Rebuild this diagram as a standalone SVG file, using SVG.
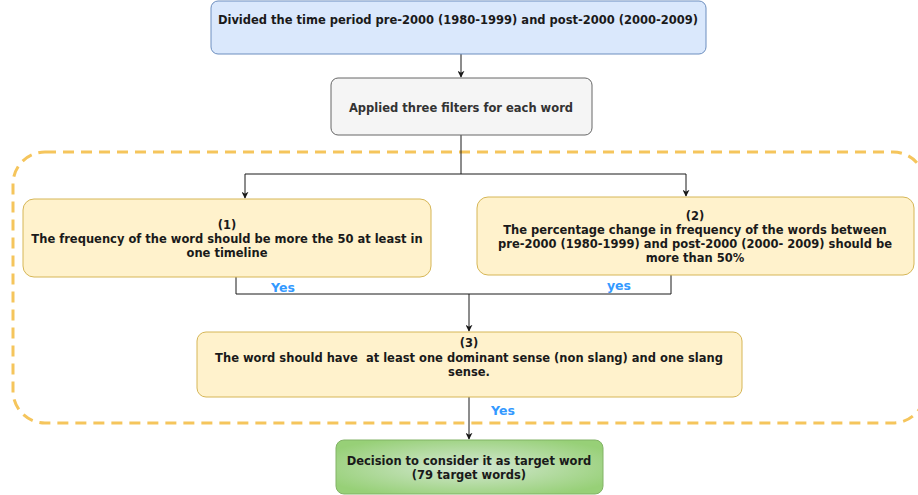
<svg xmlns="http://www.w3.org/2000/svg" width="918" height="495" viewBox="0 0 918 495">
<defs>
<style>
text{font-family:"DejaVu Sans",Verdana,sans-serif;font-weight:bold;font-size:11.5px;fill:#1a1a1a;text-anchor:middle}
.lbl{fill:#3399ff;font-size:12.5px}
.c{fill:none;stroke:#1a1a1a;stroke-width:1}
.y{fill:#fff2cc;stroke:#d6b656;stroke-width:1}
</style>
<marker id="ar" viewBox="0 0 10 10" refX="9" refY="5" markerWidth="7" markerHeight="7" orient="auto" markerUnits="userSpaceOnUse">
<path d="M0,0 L10,5 L0,10 L3,5 Z" fill="#1a1a1a"/>
</marker>
<radialGradient id="g" cx="50%" cy="50%" r="60%">
<stop offset="0" stop-color="#d5e8d4"/>
<stop offset="1" stop-color="#97d077"/>
</radialGradient>
</defs>
<rect x="13" y="152" width="912" height="271" rx="32" fill="none" stroke="#f5c55c" stroke-width="3" stroke-dasharray="11 7"/>
<g id="connectors">
<path class="c" d="M461,54 V77" marker-end="url(#ar)"/>
<path class="c" d="M461,135 V174 H245 V198" marker-end="url(#ar)"/>
<path class="c" d="M461,174 H686 V196" marker-end="url(#ar)"/>
<path class="c" d="M236,277 V294 H671 V275"/>
<path class="c" d="M469,294 V331" marker-end="url(#ar)"/>
<path class="c" d="M469,397 V439" marker-end="url(#ar)"/>
<text class="lbl" x="283" y="292">Yes</text>
<text class="lbl" x="619" y="290">yes</text>
<text class="lbl" x="503" y="415">Yes</text>
</g>
<g id="n1">
<rect x="211" y="1" width="495" height="53" rx="7" fill="#dae8fc" stroke="#6c8ebf"/>
<text x="458" y="24">Divided the time period pre-2000 (1980-1999) and post-2000 (2000-2009)</text>
</g>
<g id="n2">
<rect x="331" y="78" width="261" height="57" rx="7" fill="#f5f5f5" stroke="#666666"/>
<text x="461" y="112" style="fill:#333333">Applied three filters for each word</text>
</g>
<g id="n3">
<rect class="y" x="23" y="199" width="408" height="78" rx="11"/>
<text x="227" y="229">(1)</text>
<text x="227" y="243">The frequency of the word should be more the 50 at least in</text>
<text x="227" y="257">one timeline</text>
</g>
<g id="n4">
<rect class="y" x="477" y="197" width="437" height="78" rx="11"/>
<text x="695" y="220">(2)</text>
<text x="695" y="234">The percentage change in frequency of the words between</text>
<text x="695" y="248">pre-2000 (1980-1999) and post-2000 (2000- 2009) should be</text>
<text x="695" y="262">more than 50%</text>
</g>
<g id="n5">
<rect class="y" x="197" y="332" width="545" height="65" rx="9"/>
<text x="469" y="347">(3)</text>
<text x="469" y="362" xml:space="preserve">The word should have  at least one dominant sense (non slang) and one slang</text>
<text x="469" y="376">sense.</text>
</g>
<g id="n6">
<rect x="336" y="440" width="267" height="54" rx="8" fill="url(#g)" stroke="#82b366"/>
<text x="469" y="465">Decision to consider it as target word</text>
<text x="469" y="479">(79 target words)</text>
</g>
</svg>
